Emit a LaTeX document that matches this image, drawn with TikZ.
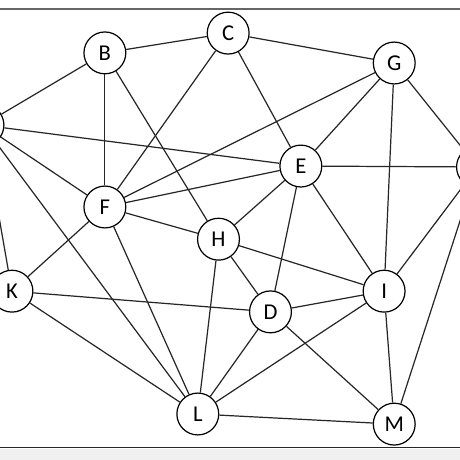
\documentclass[tikz,border=0pt]{standalone}
\usepackage{fontspec}
\setsansfont{Carlito}
\usepackage{tikz}
\usetikzlibrary{calc}

\begin{document}
\begin{tikzpicture}[line width=0.75pt,
    vertex/.style={draw, circle, fill=white, minimum size=0.91cm, inner sep=0pt, font=\sffamily\fontsize{14}{16}\selectfont},
    edge/.style={draw=black!85, line width=0.75pt}]
    % Frame of the screenshot
    \clip (0,0) rectangle (10,10);
    \fill[white] (0,0) rectangle (10,10);
    \fill[black!6] (0,0) rectangle (10,0.24);
    \draw[black!60, line width=1pt] (0,9.8) -- (10,9.8);
    \draw[black!85, line width=1.1pt] (0,0.27) -- (10,0.27);
    % Vertices
    \node[vertex] (A) at (-0.37, 7.28) {A};
    \node[vertex] (B) at (2.28, 8.85) {B};
    \node[vertex] (C) at (4.96, 9.28) {C};
    \node[vertex] (G) at (8.57, 8.63) {G};
    \node[vertex] (E) at (6.54, 6.39) {E};
    \node[vertex] (J) at (10.38, 6.37) {J};
    \node[vertex] (F) at (2.28, 5.50) {F};
    \node[vertex] (H) at (4.75, 4.80) {H};
    \node[vertex] (K) at (0.26, 3.67) {K};
    \node[vertex] (D) at (5.88, 3.22) {D};
    \node[vertex] (I) at (8.35, 3.67) {I};
    \node[vertex] (L) at (4.30, 1.00) {L};
    \node[vertex] (M) at (8.57, 0.78) {M};
    % Edges
    \draw[edge] (A) -- (B);
    \draw[edge] (A) -- (E);
    \draw[edge] (A) -- (F);
    \draw[edge] (A) -- (K);
    \draw[edge] (A) -- (L);
    \draw[edge] (B) -- (C);
    \draw[edge] (B) -- (F);
    \draw[edge] (B) -- (H);
    \draw[edge] (C) -- (F);
    \draw[edge] (C) -- (E);
    \draw[edge] (C) -- (G);
    \draw[edge] (G) -- (F);
    \draw[edge] (G) -- (E);
    \draw[edge] (G) -- (I);
    \draw[edge] (G) -- (J);
    \draw[edge] (E) -- (F);
    \draw[edge] (E) -- (J);
    \draw[edge] (E) -- (H);
    \draw[edge] (E) -- (D);
    \draw[edge] (E) -- (I);
    \draw[edge] (F) -- (H);
    \draw[edge] (F) -- (K);
    \draw[edge] (F) -- (L);
    \draw[edge] (H) -- (D);
    \draw[edge] (H) -- (I);
    \draw[edge] (H) -- (L);
    \draw[edge] (K) -- (D);
    \draw[edge] (K) -- (L);
    \draw[edge] (D) -- (I);
    \draw[edge] (D) -- (L);
    \draw[edge] (D) -- (M);
    \draw[edge] (I) -- (L);
    \draw[edge] (I) -- (M);
    \draw[edge] (J) -- (I);
    \draw[edge] (J) -- (M);
    \draw[edge] (L) -- (M);
\end{tikzpicture}
\end{document}
